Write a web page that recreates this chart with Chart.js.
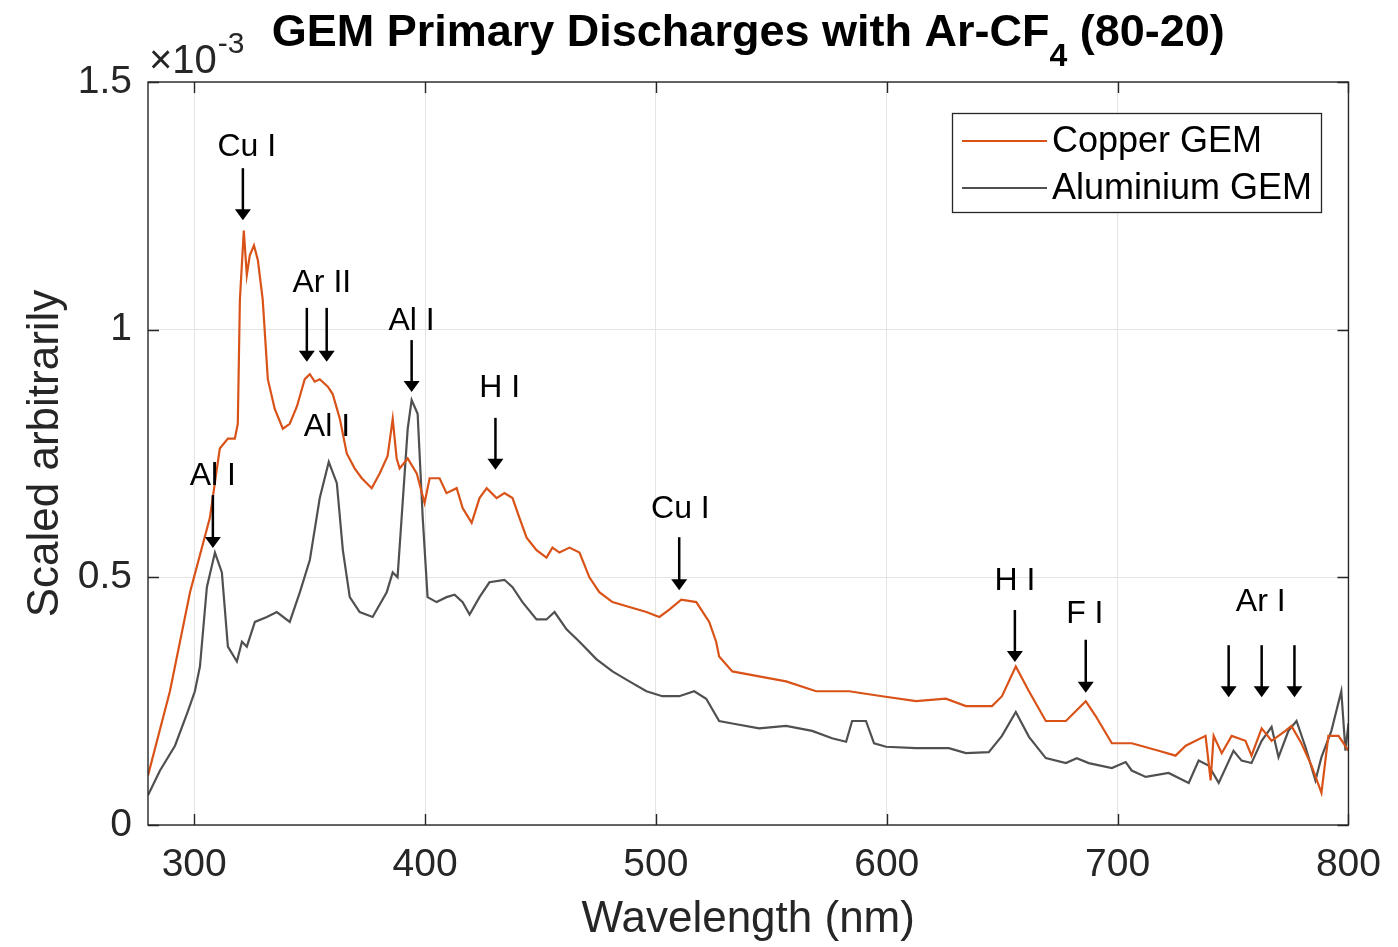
<!DOCTYPE html>
<html>
<head>
<meta charset="utf-8">
<title>GEM Primary Discharges with Ar-CF4 (80-20)</title>
<script src="https://cdn.jsdelivr.net/npm/chart.js@4.4.1/dist/chart.umd.min.js"></script>
<style>
    html, body { margin: 0; padding: 0; background: #fff; }
</style>
</head>
<body>
<canvas id="chart" width="1398" height="947"></canvas>
<script>
// values are in units of 1e-3 (the axis shows x10^-3)
const copperNm = [280, 289.5, 298.2, 306.8, 311.1, 314.6, 317.6, 318.9, 319.8, 321.5,
    322.8, 324.1, 325.9, 327.6, 329.7, 331.9, 334.9, 338.4, 341.4, 344.5,
    347.9, 350.1, 352.2, 354.4, 357.9, 360.0, 363.1, 366.1, 369.5, 372.6,
    376.9, 380.4, 383.8, 386.0, 387.7, 389.0, 392.5, 396.4, 399.8, 402.0,
    406.3, 409.3, 413.7, 416.3, 420.2, 423.6, 426.7, 431.0, 434.4, 437.9,
    440.9, 444.0, 448.3, 452.6, 455.2, 458.2, 462.6, 466.9, 471.2, 475.5,
    481.2, 488.5, 495.9, 501.5, 505.8, 511.0, 517.5, 523.1, 526.1, 527.4,
    533.1, 544.7, 556.4, 569.4, 583.7, 598.0, 612.7, 625.6, 634.3, 645.6,
    649.9, 655.9, 661.6, 668.9, 677.6, 686.2, 690.5, 697.5, 706.1, 717.8,
    725.1, 729.5, 738.1, 740.3, 741.6, 745.1, 749.4, 755.4, 758.0, 762.4,
    766.7, 772.7, 775.3, 779.6, 784.0, 788.3, 791.3, 795.7, 800];
const copperVal = [0.10, 0.27, 0.47, 0.62, 0.76, 0.78, 0.78, 0.81, 1.06, 1.20,
    1.11, 1.15, 1.17, 1.14, 1.06, 0.90, 0.84, 0.80, 0.81, 0.845,
    0.90, 0.91, 0.895, 0.90, 0.885, 0.87, 0.82, 0.75, 0.72, 0.70,
    0.68, 0.71, 0.745, 0.82, 0.74, 0.72, 0.74, 0.71, 0.65, 0.70,
    0.70, 0.67, 0.68, 0.64, 0.61, 0.66, 0.68, 0.66, 0.67, 0.66,
    0.62, 0.58, 0.555, 0.54, 0.56, 0.55, 0.56, 0.55, 0.50, 0.47,
    0.45, 0.44, 0.43, 0.42, 0.435, 0.455, 0.45, 0.41, 0.37, 0.34,
    0.31, 0.30, 0.29, 0.27, 0.27, 0.26, 0.25, 0.255, 0.24, 0.24,
    0.26, 0.32, 0.27, 0.21, 0.21, 0.25, 0.22, 0.165, 0.165, 0.15,
    0.14, 0.16, 0.18, 0.09, 0.18, 0.145, 0.18, 0.17, 0.14, 0.195,
    0.17, 0.19, 0.20, 0.165, 0.12, 0.065, 0.18, 0.18, 0.15];

const aluminiumNm = [280, 285.2, 291.7, 297.3, 300.3, 302.5, 305.5, 309.0, 312.0, 314.6,
    318.5, 320.7, 322.8, 326.3, 331.5, 335.8, 341.4, 345.8, 350.1, 354.4,
    358.3, 361.8, 364.4, 367.4, 371.7, 377.3, 383.4, 386.0, 388.1, 390.3,
    392.5, 394.2, 396.8, 399.0, 401.1, 405.0, 409.3, 412.8, 416.3, 419.3,
    423.6, 427.9, 434.4, 437.9, 442.2, 448.3, 452.6, 456.1, 461.3, 466.9,
    474.2, 481.2, 488.5, 495.9, 502.8, 510.1, 516.6, 521.8, 527.4, 533.1,
    544.7, 556.4, 567.7, 576.3, 582.4, 585.0, 591.0, 594.5, 599.7, 612.7,
    626.9, 634.3, 644.2, 649.9, 655.9, 661.6, 668.9, 677.6, 682.3, 687.5,
    697.5, 703.5, 706.1, 712.2, 722.1, 730.8, 735.1, 739.4, 743.8, 750.2,
    753.7, 758.0, 762.4, 766.7, 769.7, 774.0, 777.5, 781.4, 785.7, 788.3,
    792.6, 796.9, 798.7, 800];
const aluminiumVal = [0.06, 0.11, 0.16, 0.23, 0.27, 0.32, 0.48, 0.55, 0.51, 0.36,
    0.33, 0.37, 0.36, 0.41, 0.42, 0.43, 0.41, 0.47, 0.535, 0.66,
    0.733, 0.69, 0.555, 0.46, 0.43, 0.42, 0.47, 0.51, 0.50, 0.65,
    0.80, 0.858, 0.83, 0.62, 0.46, 0.45, 0.46, 0.465, 0.45, 0.425,
    0.46, 0.49, 0.495, 0.48, 0.45, 0.415, 0.415, 0.43, 0.395, 0.37,
    0.335, 0.31, 0.29, 0.27, 0.26, 0.26, 0.27, 0.255, 0.21, 0.205,
    0.195, 0.20, 0.19, 0.175, 0.168, 0.21, 0.21, 0.165, 0.158, 0.155,
    0.155, 0.145, 0.147, 0.18, 0.228, 0.178, 0.135, 0.125, 0.135, 0.125,
    0.115, 0.127, 0.11, 0.097, 0.105, 0.085, 0.13, 0.12, 0.085, 0.15,
    0.13, 0.125, 0.17, 0.198, 0.137, 0.19, 0.21, 0.157, 0.09, 0.137,
    0.19, 0.27, 0.15, 0.205];

const xTicks = [300, 400, 500, 600, 700, 800];
const yTicks = [0, 0.5, 1, 1.5];
const seriesNames = ["Copper GEM", "Aluminium GEM"];

// line identifications: text, where the text sits, arrow wavelengths and arrow span
const peakNames = ["Cu I", "Ar II", "Al I", "H I", "Cu I", "H I", "F I", "Ar I", "Al I", "Al I"];
const peakTextNm = [322.8, 355.3, 394.2, 432.3, 510.6, 655.5, 685.8, 762.0, 308.1, 357.5];
const peakTextVal = [1.369, 1.094, 1.018, 0.882, 0.638, 0.493, 0.426, 0.450, 0.705, 0.804];
const peakArrowNm = [[321.1], [348.8, 357.4], [394.2], [430.5], [510.1], [655.5], [686.2], [748.1, 762.4, 776.6], [308.1], []];
const peakArrowTop = [1.326, 1.044, 0.979, 0.822, 0.581, 0.434, 0.374, 0.363, 0.666, 0];
const peakArrowTip = [1.221, 0.935, 0.874, 0.717, 0.474, 0.329, 0.267, 0.258, 0.559, 0];

const FONT = "\"Liberation Sans\", Arial, Helvetica, sans-serif";
const AXIS_COLOR = "#262626";

document.addEventListener("DOMContentLoaded", function() {
    const matlabLook = {
        id: "matlabLook",
        afterDraw(chart) {
            const ctx = chart.ctx;
            const area = chart.chartArea;
            const xs = chart.scales.x;
            const ys = chart.scales.y;
            ctx.save();

            // box and inward ticks on all four sides
            ctx.strokeStyle = AXIS_COLOR;
            ctx.lineWidth = 1.4;
            ctx.strokeRect(area.left, area.top, area.right - area.left, area.bottom - area.top);
            ctx.beginPath();
            xTicks.forEach(v => {
                const px = Math.round(xs.getPixelForValue(v)) + 0.5;
                ctx.moveTo(px, area.bottom); ctx.lineTo(px, area.bottom - 11);
                ctx.moveTo(px, area.top); ctx.lineTo(px, area.top + 11);
            });
            yTicks.forEach(v => {
                const py = Math.round(ys.getPixelForValue(v)) + 0.5;
                ctx.moveTo(area.left, py); ctx.lineTo(area.left + 11, py);
                ctx.moveTo(area.right, py); ctx.lineTo(area.right - 11, py);
            });
            ctx.stroke();

            // peak labels and arrows
            ctx.fillStyle = "#000";
            ctx.strokeStyle = "#000";
            ctx.font = "32px " + FONT;
            ctx.textAlign = "center";
            ctx.textBaseline = "middle";
            for (let i = 0; i < peakNames.length; i++) {
                ctx.fillText(peakNames[i], xs.getPixelForValue(peakTextNm[i]), ys.getPixelForValue(peakTextVal[i]));
                const top = ys.getPixelForValue(peakArrowTop[i]);
                const tip = ys.getPixelForValue(peakArrowTip[i]);
                peakArrowNm[i].forEach(nm => {
                    const px = xs.getPixelForValue(nm);
                    ctx.lineWidth = 2.5;
                    ctx.beginPath();
                    ctx.moveTo(px, top);
                    ctx.lineTo(px, tip - 8);
                    ctx.stroke();
                    ctx.beginPath();
                    ctx.moveTo(px - 8, tip - 11);
                    ctx.lineTo(px + 8, tip - 11);
                    ctx.lineTo(px, tip);
                    ctx.closePath();
                    ctx.fill();
                });
            }

            // legend box, top right inside the axes
            const lx = 952, ly = 113, lw = 369, lh = 99;
            ctx.fillStyle = "#fff";
            ctx.fillRect(lx, ly, lw, lh);
            ctx.strokeStyle = AXIS_COLOR;
            ctx.lineWidth = 1.3;
            ctx.strokeRect(lx + 0.5, ly + 0.5, lw, lh);
            ctx.font = "36px " + FONT;
            ctx.textAlign = "left";
            chart.data.datasets.forEach((ds, i) => {
                const rowY = ly + 28 + i * 47;
                ctx.strokeStyle = ds.borderColor;
                ctx.lineWidth = 2;
                ctx.beginPath();
                ctx.moveTo(lx + 10, rowY);
                ctx.lineTo(lx + 95, rowY);
                ctx.stroke();
                ctx.fillStyle = "#000";
                ctx.fillText(ds.label, lx + 100, rowY + 1);
            });

            // exponent marker above the y axis
            ctx.fillStyle = AXIS_COLOR;
            ctx.textBaseline = "alphabetic";
            ctx.font = "40px " + FONT;
            ctx.fillText("\u00d710", area.left + 1, 73);
            const baseW = ctx.measureText("\u00d710").width;
            ctx.font = "30px " + FONT;
            ctx.fillText("-3", area.left + 2 + baseW, 53);

            // title with subscript 4
            const bold = "bold 45px " + FONT;
            const sub = "bold 32px " + FONT;
            const partA = "GEM Primary Discharges with Ar-CF";
            const partB = "4";
            const partC = " (80-20)";
            ctx.font = bold;
            const wA = ctx.measureText(partA).width;
            const wC = ctx.measureText(partC).width;
            ctx.font = sub;
            const wB = ctx.measureText(partB).width;
            let tx = (area.left + area.right) / 2 - (wA + wB + wC) / 2;
            ctx.fillStyle = "#000";
            ctx.font = bold;
            ctx.fillText(partA, tx, 46);
            tx += wA;
            ctx.font = sub;
            ctx.fillText(partB, tx, 66);
            tx += wB;
            ctx.font = bold;
            ctx.fillText(partC, tx, 46);

            ctx.restore();
        }
    };

    const copperPoints = copperNm.map((nm, i) => ({ x: nm, y: copperVal[i] }));
    const aluminiumPoints = aluminiumNm.map((nm, i) => ({ x: nm, y: aluminiumVal[i] }));

    new Chart(document.getElementById("chart"), {
        type: "line",
        data: {
            datasets: [
                { label: seriesNames[0], data: copperPoints, borderColor: "#D95319", borderWidth: 2.2, pointRadius: 0, tension: 0 },
                { label: seriesNames[1], data: aluminiumPoints, borderColor: "#505050", borderWidth: 2.2, pointRadius: 0, tension: 0 }
            ]
        },
        options: {
            responsive: false,
            animation: false,
            layout: { padding: { top: 82, right: 48, bottom: 0, left: 0 } },
            plugins: {
                legend: { display: false },
                title: { display: false },
                tooltip: { enabled: false }
            },
            scales: {
                x: {
                    type: "linear",
                    min: 280,
                    max: 800,
                    afterBuildTicks: scale => { scale.ticks = xTicks.map(v => ({ value: v })); },
                    afterFit: scale => { scale.height = 122; },
                    grid: { color: "#e4e4e4", lineWidth: 1, drawTicks: false },
                    border: { display: false },
                    ticks: { padding: 17, color: AXIS_COLOR, font: { family: FONT, size: 39 }, maxRotation: 0, callback: v => String(v) },
                    title: { display: true, text: "Wavelength (nm)", color: AXIS_COLOR, font: { family: FONT, size: 44 }, padding: { top: 0, bottom: 1 } }
                },
                y: {
                    min: 0,
                    max: 1.5,
                    afterBuildTicks: scale => { scale.ticks = yTicks.map(v => ({ value: v })); },
                    afterFit: scale => { scale.width = 148; },
                    grid: { color: "#e4e4e4", lineWidth: 1, drawTicks: false },
                    border: { display: false },
                    ticks: { padding: 16, color: AXIS_COLOR, font: { family: FONT, size: 39 }, callback: v => String(v) },
                    title: { display: true, text: "Scaled arbitrarily", color: AXIS_COLOR, font: { family: FONT, size: 44 }, padding: { top: 19, bottom: 0 } }
                }
            }
        },
        plugins: [matlabLook]
    });
});
</script>
</body>
</html>
